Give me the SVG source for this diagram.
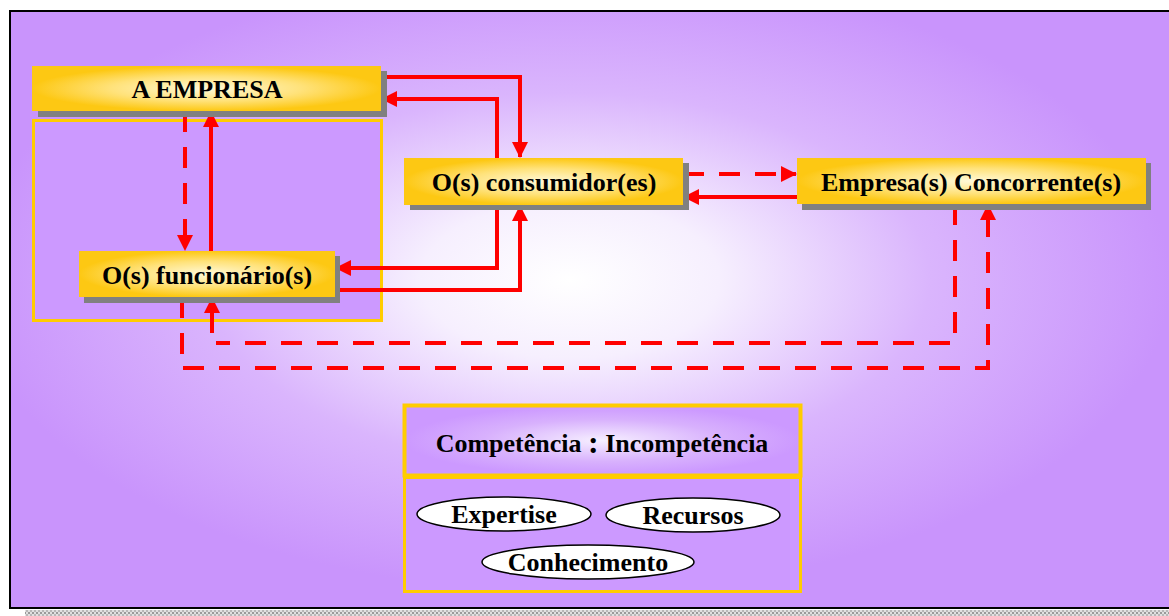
<svg xmlns="http://www.w3.org/2000/svg" width="1169" height="616" viewBox="0 0 1169 616">
  <defs>
    <radialGradient id="bg" gradientUnits="userSpaceOnUse" cx="570" cy="280" r="600" gradientTransform="translate(0 280) scale(1 0.52) translate(0 -280)">
      <stop offset="0" stop-color="#ffffff"/>
      <stop offset="0.25" stop-color="#f6effe"/>
      <stop offset="0.6" stop-color="#dab5fd"/>
      <stop offset="1" stop-color="#c994fc"/>
    </radialGradient>
    <radialGradient id="gold" cx="0.5" cy="0.5" r="0.5">
      <stop offset="0" stop-color="#fff9d8"/>
      <stop offset="0.55" stop-color="#ffe27a"/>
      <stop offset="1" stop-color="#fdc813"/>
    </radialGradient>
    <radialGradient id="lilac" cx="0.5" cy="0.5" r="0.5">
      <stop offset="0" stop-color="#f6efff"/>
      <stop offset="0.6" stop-color="#d8b1fd"/>
      <stop offset="1" stop-color="#cc99ff"/>
    </radialGradient>
    <pattern id="checker" width="4" height="4" patternUnits="userSpaceOnUse">
      <rect width="4" height="4" fill="#e0e0e0"/>
      <rect width="2" height="2" fill="#9a9a9a"/>
      <rect x="2" y="2" width="2" height="2" fill="#b8b8b8"/>
    </pattern>
    <marker id="arrow" markerUnits="userSpaceOnUse" markerWidth="16" markerHeight="16" viewBox="0 0 16 16" refX="15" refY="8" orient="auto">
      <path d="M0,0 L16,8 L0,16 Z" fill="#ff0000"/>
    </marker>
    <style>
      .node-box { fill: url(#gold); }
      .shadow { fill: #808080; }
      .label { font-family: "Liberation Serif", "Times New Roman", serif; font-weight: bold; font-size: 26px; fill: #000; text-anchor: middle; }
      .solid { fill: none; stroke: #ff0000; stroke-width: 4; }
      .dashed { fill: none; stroke: #ff0000; stroke-width: 4; stroke-dasharray: 21 15; }
      .frame-yellow { fill: #cc99ff; stroke: #ffcc00; stroke-width: 3; }
      .pill { fill: #ffffff; stroke: #000; stroke-width: 1.5; }
    </style>
  </defs>

  <!-- page and frame -->
  <rect x="0" y="0" width="1169" height="616" fill="#ffffff"/>
  <rect x="25" y="610" width="1144" height="6" fill="url(#checker)"/>
  <rect x="10" y="11" width="1165" height="597" fill="url(#bg)" stroke="#000" stroke-width="2"/>

  <!-- group around the company and its staff -->
  <g id="empresa-grupo">
    <rect class="frame-yellow" x="33.5" y="120.5" width="348" height="200"/>
  </g>

  <!-- connectors -->
  <g id="connectors">
    <!-- empresa <-> consumidor -->
    <path class="solid" d="M381,77 H520 V157" marker-end="url(#arrow)"/>
    <path class="solid" d="M497,158 V99 H382" marker-end="url(#arrow)"/>
    <!-- consumidor <-> funcionario -->
    <path class="solid" d="M497,205 V268 H336" marker-end="url(#arrow)"/>
    <path class="solid" d="M336,290 H520 V206" marker-end="url(#arrow)"/>
    <!-- empresa <-> funcionario -->
    <path class="dashed" d="M185,111 V250" marker-end="url(#arrow)"/>
    <path class="solid" d="M211,251 V112" marker-end="url(#arrow)"/>
    <!-- consumidor <-> concorrente -->
    <path class="dashed" d="M683,174 H796" marker-end="url(#arrow)"/>
    <path class="solid" d="M797,197 H684" marker-end="url(#arrow)"/>
    <!-- concorrente <-> funcionario -->
    <path class="dashed" d="M955,204 V343 H216"/>
    <path class="solid" d="M212,333 V298" marker-end="url(#arrow)"/>
    <path class="dashed" d="M182,297 V368 H988 V205" marker-end="url(#arrow)"/>
  </g>

  <g id="a-empresa">
    <rect class="shadow" x="38" y="71" width="349" height="46"/>
    <rect class="node-box" x="32" y="66" width="349" height="45"/>
    <text class="label" x="207" y="98">A EMPRESA</text>
  </g>

  <g id="funcionarios">
    <rect class="shadow" x="84" y="256" width="256" height="47"/>
    <rect class="node-box" x="79" y="251" width="256" height="46"/>
    <text class="label" x="207" y="284">O(s) funcionário(s)</text>
  </g>

  <g id="consumidores">
    <rect class="shadow" x="410" y="163" width="279" height="47"/>
    <rect class="node-box" x="404" y="158" width="279" height="47"/>
    <text class="label" x="544" y="191">O(s) consumidor(es)</text>
  </g>

  <g id="concorrentes">
    <rect class="shadow" x="802" y="163" width="349" height="47"/>
    <rect class="node-box" x="797" y="158" width="349" height="46"/>
    <text class="label" x="971" y="191">Empresa(s) Concorrente(s)</text>
  </g>

  <g id="competencia">
    <rect x="404.5" y="405.5" width="396" height="70" fill="url(#lilac)" stroke="#ffcc00" stroke-width="4"/>
    <rect class="frame-yellow" x="404.5" y="477.5" width="396" height="114"/>
    <text class="label" x="602" y="452">Competência <tspan font-size="32" dy="1">:</tspan><tspan dy="-1"> Incompetência</tspan></text>
  </g>

  <g id="expertise">
    <ellipse class="pill" cx="504" cy="514" rx="87" ry="17"/>
    <text class="label" x="504" y="523">Expertise</text>
  </g>
  <g id="recursos">
    <ellipse class="pill" cx="693" cy="515" rx="87" ry="17"/>
    <text class="label" x="693" y="524">Recursos</text>
  </g>
  <g id="conhecimento">
    <ellipse class="pill" cx="588" cy="562" rx="106" ry="17"/>
    <text class="label" x="588" y="571">Conhecimento</text>
  </g>
</svg>
